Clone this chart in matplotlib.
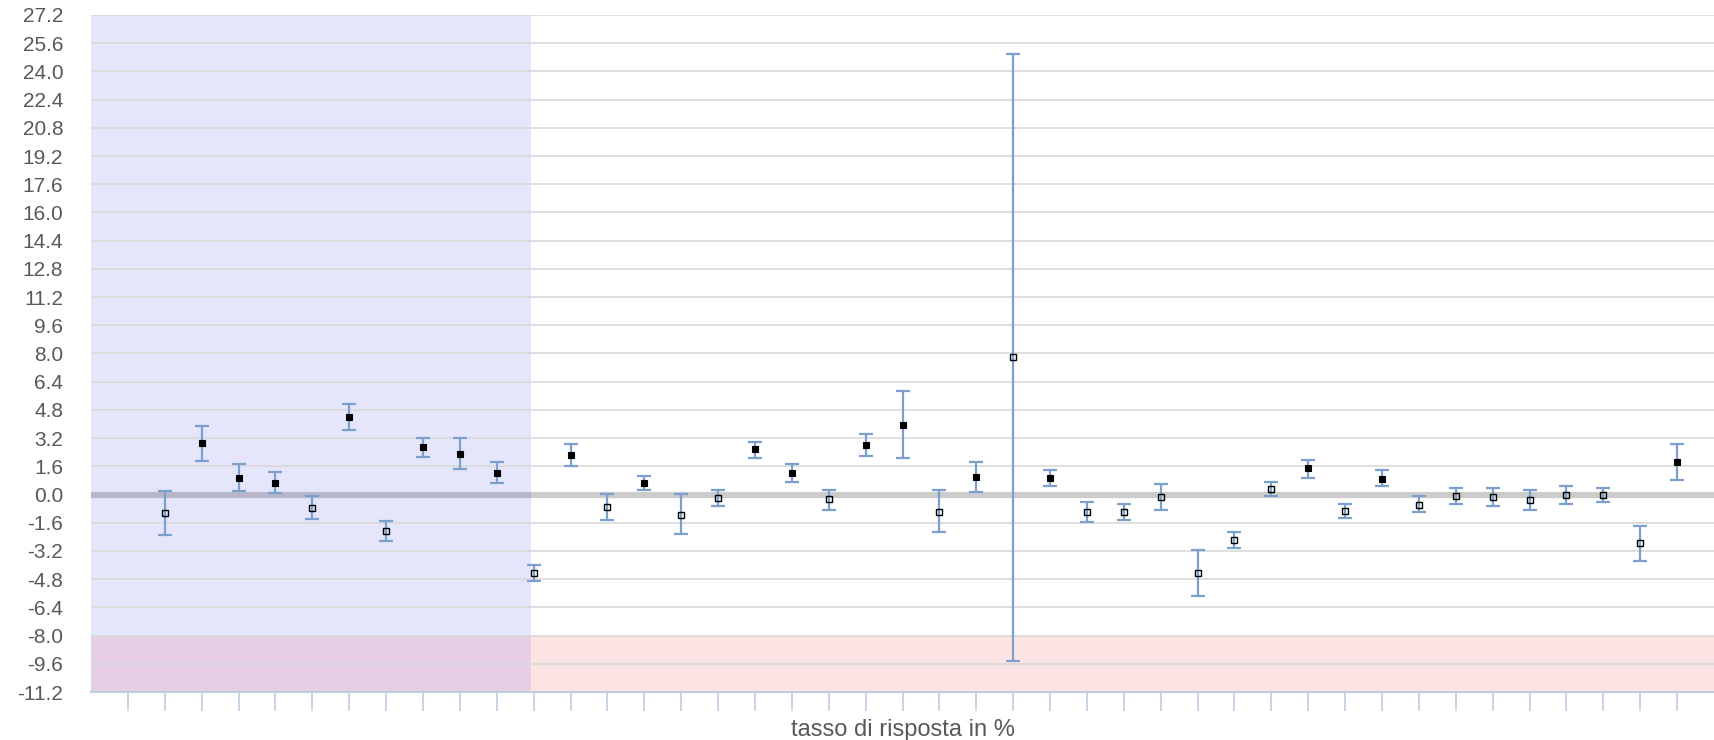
import matplotlib
matplotlib.use("Agg")
import matplotlib.pyplot as plt
import numpy as np

plt.rcParams['font.family'] = ['Liberation Sans', 'DejaVu Sans']

# ---- data ----
positions = list(range(2, 44))
means = [-1.03, 2.91, 0.95, 0.67, -0.76, 4.38, -2.04, 2.69, 2.29, 1.20,
         -4.45, 2.22, -0.72, 0.67, -1.14, -0.19, 2.58, 1.24, -0.27, 2.81,
         3.95, -0.99, 0.99, 7.78, 0.95, -1.01, -1.01, -0.15, -4.45, -2.58,
         0.30, 1.50, -0.93, 0.89, -0.57, -0.08, -0.13, -0.30, 0.00, 0.00,
         -2.74, 1.84]
lows = [-2.30, 1.92, 0.21, 0.10, -1.39, 3.66, -2.65, 2.15, 1.47, 0.67,
        -4.90, 1.62, -1.46, 0.25, -2.26, -0.67, 2.07, 0.70, -0.89, 2.19,
        2.09, -2.15, 0.13, -9.45, 0.48, -1.58, -1.46, -0.89, -5.75, -3.06,
        -0.08, 0.95, -1.35, 0.49, -1.01, -0.55, -0.67, -0.89, -0.55, -0.44,
        -3.75, 0.84]
highs = [0.21, 3.89, 1.71, 1.26, -0.11, 5.14, -1.50, 3.18, 3.18, 1.83,
         -4.00, 2.89, 0.04, 1.06, 0.04, 0.27, 3.00, 1.75, 0.27, 3.46,
         5.85, 0.25, 1.84, 25.00, 1.41, -0.42, -0.55, 0.59, -3.15, -2.15,
         0.70, 1.98, -0.55, 1.41, -0.08, 0.38, 0.38, 0.27, 0.48, 0.38,
         -1.79, 2.87]
y_ticks = [round(27.2 - 1.6 * i, 1) for i in range(25)]
y_labels = ["0.0" if abs(t) < 1e-9 else f"{t:.1f}" for t in y_ticks]
x_label = "tasso di risposta in %"

# regions
blue_end = 11.92
pink_top = -8.0
y_min, y_max = -11.2, 27.2
x_min, x_max = 0, 44

fig = plt.figure(figsize=(17.14, 7.40), dpi=100)
ax = fig.add_axes([91 / 1714, 48 / 740, (1714 - 91) / 1714, (692 - 15) / 740])

ax.set_xlim(x_min, x_max)
ax.set_ylim(y_min, y_max)

# background regions
ax.axvspan(x_min, blue_end, ymin=(pink_top - y_min) / (y_max - y_min), ymax=1,
           color='#e5e5fc', lw=0, zorder=0)
ax.axhspan(y_min, pink_top, xmin=blue_end / x_max, xmax=1, color='#fce4e4', lw=0, zorder=0)
ax.axhspan(y_min, pink_top, xmin=0, xmax=blue_end / x_max, color='#e6cfe4', lw=0, zorder=0)

# gridlines
for t in y_ticks:
    if abs(t) > 1e-9:
        ax.axhline(t, color='#d9d9d9', lw=1.2, zorder=1)
# zero band
ax.axhline(0, color='black', alpha=0.2, lw=4.5, zorder=1.5)

means_a = np.array(means)
lows_a = np.array(lows)
highs_a = np.array(highs)
pos_a = np.array(positions)
err = np.vstack([means_a - lows_a, highs_a - means_a])

ax.errorbar(pos_a, means_a, yerr=err, fmt='none', ecolor='#7ba0cd', elinewidth=1.6,
            capsize=5, capthick=1.6, zorder=2)

filled = lows_a > 0
ax.plot(pos_a[filled], means_a[filled], 's', color='black', markersize=4.4,
        markeredgewidth=0.8, linestyle='none', zorder=3)
ax.plot(pos_a[~filled], means_a[~filled], 's', markerfacecolor='none',
        markeredgecolor='black', markersize=4.4, markeredgewidth=1.0,
        linestyle='none', zorder=3)

ax.set_yticks(y_ticks)
ax.set_yticklabels(y_labels)
ax.set_xticks(range(1, 44))
ax.set_xticklabels([])
ax.tick_params(axis='y', length=0, pad=20, labelsize=15, labelcolor='#595959')
ax.tick_params(axis='x', length=14, width=1.2, color='#bccde0', direction='out')
ax.set_xlabel(x_label, fontsize=17, color='#595959', labelpad=2)

for s in ['top', 'right', 'left']:
    ax.spines[s].set_visible(False)
ax.spines['bottom'].set_color('#bccde0')
ax.spines['bottom'].set_linewidth(1.5)
ax.spines['bottom'].set_zorder(4)

fig.savefig('out.png', dpi=100)
